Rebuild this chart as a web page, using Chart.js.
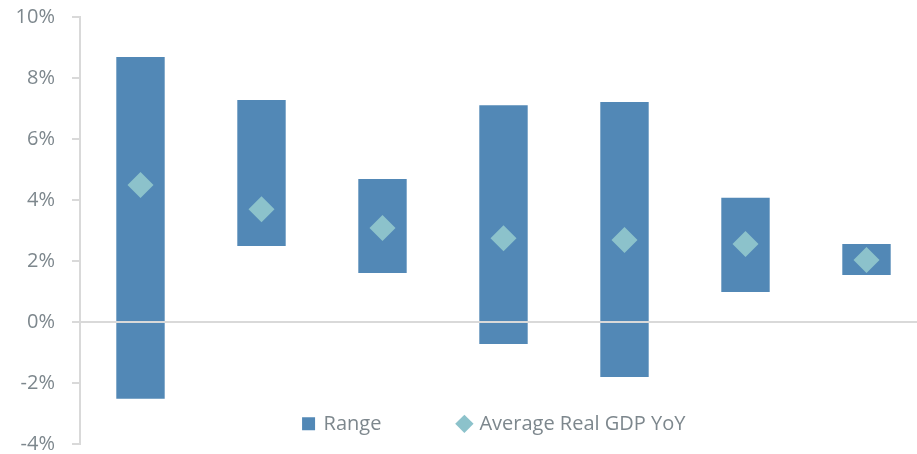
<!DOCTYPE html>
<html>
<head>
<meta charset="utf-8">
<script src="https://cdn.jsdelivr.net/npm/chart.js@4.4.1/dist/chart.umd.min.js"></script>
<style>
  html, body { margin: 0; padding: 0; background: #fff; }
  #wrap { width: 917px; height: 454px; }
</style>
</head>
<body>
<div id="wrap"><canvas id="myChart"></canvas></div>
<script>
// categories are not labelled in the original chart
var categories = ['A', 'B', 'C', 'D', 'E', 'F', 'G'];
var rangeLow  = [-2.52, 2.49, 1.61, -0.72, -1.80, 0.98, 1.54];
var rangeHigh = [8.69, 7.28, 4.69, 7.11, 7.21, 4.07, 2.56];
var avgGdp    = [4.49, 3.70, 3.08, 2.75, 2.69, 2.56, 2.03];
var yTicks    = [-4, -2, 0, 2, 4, 6, 8, 10];

var grey = '#7d878d';
var lineGrey = '#d9d9d9';
var legendGap = 78;
Chart.defaults.font.family = '"Open Sans", Lato, sans-serif';
Chart.defaults.font.size = 20;
Chart.defaults.color = grey;

// keep the legend from taking room below the plot, then put it inside near the bottom
var legendInside = {
    id: 'legendInside',
    beforeLayout: function (chart) {
        var lg = chart.legend;
        if (lg && !lg._wrapped) {
            var fit = lg.fit.bind(lg);
            lg.fit = function () { fit(); this._realH = this.height; this.height = 0; };
            lg._wrapped = true;
        }
    },
    afterLayout: function (chart) {
        // the category band runs a little past the right edge in the original
        var x = chart.scales.x;
        x.right += 10;
        x.width = x.right - x.left;
        x.configure();

        var lg = chart.legend;
        var mid = chart.scales.y.getPixelForValue(-3.34);
        lg.height = lg._realH;
        lg.top = mid - legendGap - 10;
        lg.bottom = lg.top + lg._realH;
        lg.right = chart.width - 8;
        lg.width = lg.right - lg.left;
    }
};

var ctx = document.getElementById('myChart').getContext('2d');
var chart = new Chart(ctx, {
    type: 'bar',
    data: {
        labels: categories,
        datasets: [{
            type: 'line',
            label: 'Average Real GDP YoY',
            data: avgGdp,
            showLine: false,
            pointStyle: 'rectRot',
            pointRadius: 13,
            pointHoverRadius: 13,
            borderWidth: 0,
            backgroundColor: '#8cc2cb',
            borderColor: '#8cc2cb',
            order: 0
        }, {
            label: 'Range',
            data: rangeLow.map(function (v, i) { return [v, rangeHigh[i]]; }),
            backgroundColor: '#5288b6',
            pointStyle: 'rect',
            categoryPercentage: 1,
            barPercentage: 0.4,
            order: 1
        }]
    },
    options: {
        responsive: true,
        maintainAspectRatio: false,
        animation: false,
        layout: { autoPadding: false, padding: { top: 17, bottom: 10, right: 0, left: 0 } },
        plugins: {
            tooltip: { enabled: false },
            legend: {
                position: 'bottom',
                fullSize: false,
                reverse: true,
                labels: {
                    usePointStyle: true,
                    boxWidth: 10,
                    boxHeight: 13,
                    padding: legendGap,
                    color: grey,
                    font: { size: 20 }
                }
            }
        },
        scales: {
            x: { display: false },
            y: {
                min: -4,
                max: 10,
                afterFit: function (s) { s.width = 80; s.paddingTop = 0; s.paddingBottom = 0; },
                afterBuildTicks: function (s) { s.ticks = yTicks.map(function (v) { return { value: v }; }); },
                ticks: {
                    padding: 17,
                    color: grey,
                    font: { size: 20 },
                    callback: function (v) { return v + '%'; }
                },
                border: { color: lineGrey, width: 2, z: 2 },
                grid: {
                    z: 1,
                    tickLength: 8,
                    tickColor: lineGrey,
                    lineWidth: 2,
                    color: function (c) { return c.tick && c.tick.value === 0 ? lineGrey : 'rgba(0,0,0,0)'; }
                }
            }
        }
    },
    plugins: [legendInside]
});
</script>
</body>
</html>
